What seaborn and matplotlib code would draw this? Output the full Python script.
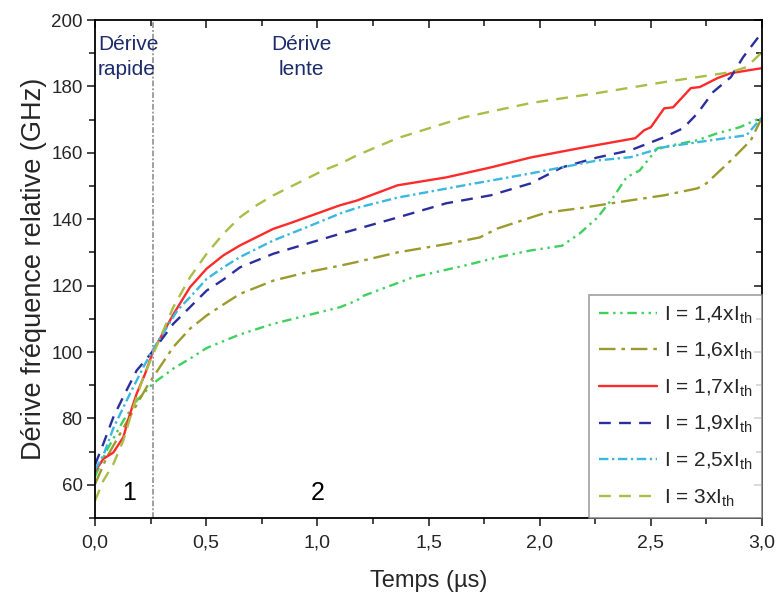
import numpy as np
import pandas as pd
import matplotlib
matplotlib.use("Agg")
import matplotlib.pyplot as plt
import seaborn as sns
from matplotlib.ticker import MultipleLocator

# ---- data ----
t_14 = [0.0, 0.052, 0.127, 0.187, 0.262, 0.322, 0.352, 0.427, 0.502, 0.652, 0.802, 0.952, 1.102, 1.177, 1.21, 1.43, 1.66, 1.81, 1.96, 2.1, 2.18, 2.26, 2.33, 2.39, 2.45, 2.53, 2.71, 2.8, 2.9, 3.0]
y_14 = [62.5, 70.3, 79.3, 85.3, 90.6, 93.5, 95.0, 98.0, 101.2, 105.3, 108.5, 111.0, 113.5, 115.5, 117.0, 122.5, 126.0, 128.5, 130.6, 132.0, 135.7, 140.5, 146.5, 152.6, 154.7, 161.4, 163.8, 165.9, 167.7, 170.7]

t_16 = [0.0, 0.052, 0.112, 0.172, 0.232, 0.277, 0.352, 0.427, 0.502, 0.577, 0.652, 0.802, 0.952, 1.102, 1.177, 1.36, 1.58, 1.73, 1.81, 1.96, 2.03, 2.18, 2.41, 2.56, 2.71, 2.75, 2.86, 2.95, 3.0]
y_16 = [60.2, 68.2, 75.3, 82.3, 89.4, 94.0, 101.5, 107.0, 111.0, 114.3, 117.5, 121.5, 124.0, 126.0, 127.1, 130.0, 132.5, 134.5, 137.2, 140.5, 142.0, 143.3, 145.7, 147.2, 149.3, 150.8, 157.7, 163.8, 170.7]

t_17 = [0.0, 0.037, 0.082, 0.127, 0.157, 0.187, 0.225, 0.262, 0.337, 0.352, 0.427, 0.502, 0.577, 0.652, 0.727, 0.802, 0.877, 0.952, 1.027, 1.102, 1.177, 1.36, 1.58, 1.78, 1.96, 2.18, 2.43, 2.47, 2.5, 2.56, 2.6, 2.68, 2.72, 2.8, 2.86, 3.0]
y_17 = [64.0, 67.8, 69.7, 74.3, 81.3, 87.4, 93.4, 100.4, 109.5, 111.3, 119.5, 125.1, 129.1, 132.1, 134.6, 137.1, 138.8, 140.6, 142.4, 144.2, 145.6, 150.2, 152.6, 155.6, 158.6, 161.4, 164.4, 166.8, 167.7, 173.4, 173.7, 179.5, 179.8, 182.5, 184.0, 185.5]

t_19 = [0.0, 0.037, 0.082, 0.127, 0.187, 0.262, 0.352, 0.427, 0.502, 0.577, 0.652, 0.802, 0.952, 1.102, 1.36, 1.58, 1.78, 1.96, 2.1, 2.26, 2.41, 2.56, 2.645, 2.71, 2.78, 2.86, 2.915, 3.0]
y_19 = [66.0, 72.3, 80.3, 86.5, 94.4, 100.4, 108.5, 113.5, 118.5, 121.8, 125.5, 129.6, 132.6, 135.6, 140.5, 144.8, 147.2, 150.8, 155.6, 158.6, 160.8, 164.7, 167.4, 171.9, 178.3, 182.8, 188.8, 196.3]

t_25 = [0.0, 0.037, 0.082, 0.157, 0.217, 0.262, 0.37, 0.427, 0.502, 0.577, 0.652, 0.802, 0.952, 1.102, 1.177, 1.36, 1.66, 1.96, 2.26, 2.41, 2.56, 2.71, 2.93, 3.0]
y_25 = [64.5, 68.8, 77.0, 87.4, 95.4, 100.9, 112.5, 116.5, 122.0, 125.5, 128.6, 133.6, 137.6, 141.7, 143.4, 146.5, 150.2, 153.8, 157.7, 158.7, 161.7, 163.2, 165.3, 170.7]

t_30 = [0.0, 0.037, 0.082, 0.127, 0.172, 0.217, 0.262, 0.352, 0.427, 0.502, 0.577, 0.652, 0.727, 0.802, 0.877, 0.952, 1.027, 1.102, 1.177, 1.36, 1.66, 1.96, 2.26, 2.56, 2.71, 2.86, 2.93, 3.0]
y_30 = [55.2, 61.2, 66.2, 73.3, 83.3, 92.4, 99.4, 113.5, 122.5, 129.6, 135.6, 140.6, 144.2, 147.2, 149.7, 152.2, 154.7, 156.7, 159.2, 164.4, 170.7, 175.0, 178.0, 181.3, 182.8, 184.3, 185.8, 190.3]

labels = ["I = 1,4xI$_{\\mathrm{th}}$", "I = 1,6xI$_{\\mathrm{th}}$", "I = 1,7xI$_{\\mathrm{th}}$",
          "I = 1,9xI$_{\\mathrm{th}}$", "I = 2,5xI$_{\\mathrm{th}}$", "I = 3xI$_{\\mathrm{th}}$"]
series_t = [t_14, t_16, t_17, t_19, t_25, t_30]
series_y = [y_14, y_16, y_17, y_19, y_25, y_30]

x_ticks = [0.0, 0.5, 1.0, 1.5, 2.0, 2.5, 3.0]
y_ticks = [60, 80, 100, 120, 140, 160, 180, 200]
boundary_t = 0.26

colors = ["#3fd060", "#9c9a2c", "#ff2a2a", "#2b2f9c", "#3ab8e0", "#abbd48"]
styles = [(0, (4, 2, 1, 2, 1, 2)), (0, (7, 2.5, 1.5, 2.5)), "-", (0, (5, 3.5)), (0, (4, 1.5, 1, 1.5)), (0, (5, 3.5))]

sns.set_style("ticks")
plt.rcParams["font.family"] = ["Liberation Sans", "DejaVu Sans"]
plt.rcParams["mathtext.fontset"] = "custom"
plt.rcParams["mathtext.rm"] = "Liberation Sans"

fig = plt.figure(figsize=(7.77, 5.92), dpi=100)
ax = fig.add_axes([0.1223, 0.125, 0.8584, 0.8412])

rows = []
for lab, tt, yy in zip(labels, series_t, series_y):
    for a, b in zip(tt, yy):
        rows.append({"t": a, "y": b, "serie": lab})
df = pd.DataFrame(rows)

for lab, c, ls in zip(labels, colors, styles):
    sub = df[df["serie"] == lab]
    sns.lineplot(data=sub, x="t", y="y", ax=ax, color=c, linestyle=ls, lw=1.7,
                 label=lab, estimator=None, sort=False)

ax.axvline(boundary_t, color="#a0a0a0", lw=1.4, linestyle=(0, (3, 1, 1, 1)))

ax.set_xlim(0, 3.0)
ax.set_ylim(50, 200)
ax.set_xticks(x_ticks)
ax.set_yticks(y_ticks)
ax.xaxis.set_minor_locator(MultipleLocator(0.25))
ax.yaxis.set_minor_locator(MultipleLocator(10))
ax.xaxis.set_major_formatter(plt.FuncFormatter(lambda v, p: f"{v:.1f}".replace(".", ",")))

ax.tick_params(axis="both", which="major", length=6, width=1.2, direction="out", top=True, right=True)
ax.tick_params(axis="both", which="minor", length=4, width=1.2, direction="out", top=True, right=True)
ax.tick_params(axis="x", which="major", labelsize=14, pad=6)
ax.tick_params(axis="y", which="major", labelsize=13.5, pad=3)
for side in ["top", "bottom", "left", "right"]:
    ax.spines[side].set_linewidth(1.3)
    ax.spines[side].set_color("black")
# top and right ticks point inward
for tick in ax.xaxis.get_major_ticks() + ax.xaxis.get_minor_ticks():
    tick.tick2line.set_marker(matplotlib.lines.TICKDOWN)
for tick in ax.yaxis.get_major_ticks() + ax.yaxis.get_minor_ticks():
    tick.tick2line.set_marker(matplotlib.lines.TICKLEFT)

ax.set_xlabel("Temps (µs)", fontsize=17, labelpad=13)
ax.set_ylabel("Dérive fréquence relative (GHz)", fontsize=19.5, labelpad=3)

txtc = "#1b2b6b"
ax.text(0.013, 195.5, "Dérive\nrapide", color=txtc, fontsize=15, va="top", ha="left", linespacing=1.4)
ax.text(0.93, 195.5, "Dérive\nlente", color=txtc, fontsize=15, va="top", ha="center", linespacing=1.4)
ax.text(0.155, 57.5, "1", color="black", fontsize=18, ha="center", va="center")
ax.text(1.0, 57.5, "2", color="black", fontsize=18, ha="center", va="center")

leg = ax.legend(loc="lower right", fontsize=15, frameon=True, fancybox=False,
                edgecolor="#888888", handlelength=2.8, handletextpad=0.35,
                labelspacing=0.72, borderpad=0.45, borderaxespad=0.0)
leg.get_frame().set_linewidth(1.2)

fig.savefig("out.png", dpi=100, facecolor="white")
